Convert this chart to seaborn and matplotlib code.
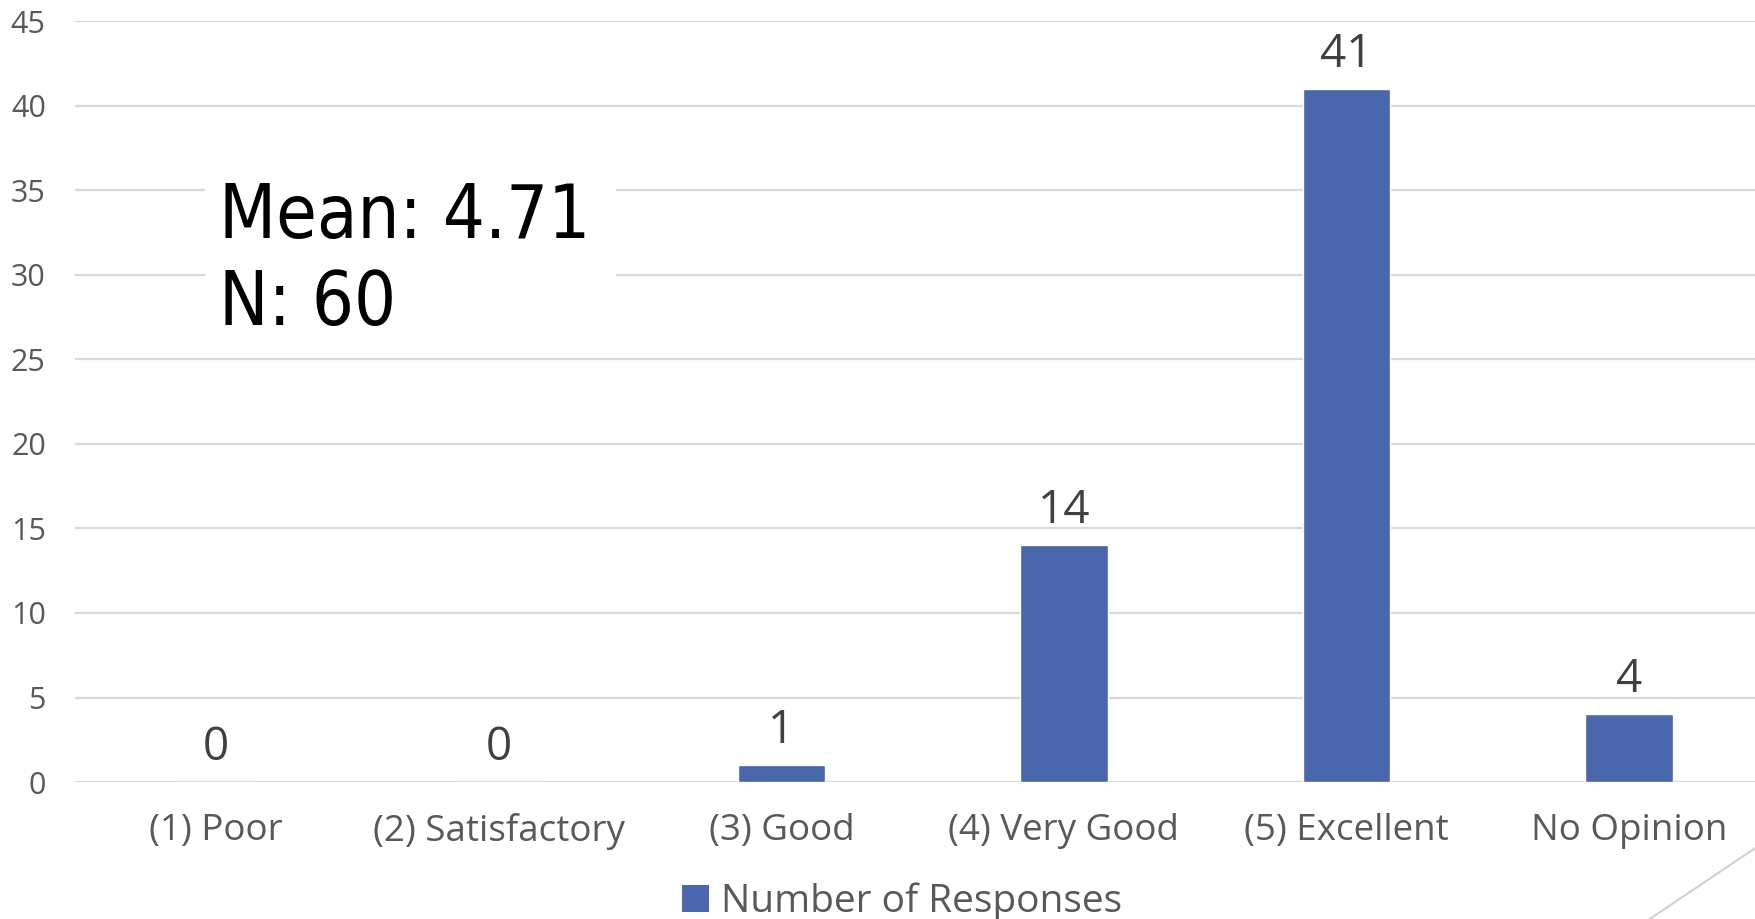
import matplotlib
matplotlib.use("Agg")
import matplotlib.pyplot as plt
from matplotlib.lines import Line2D
from matplotlib.patches import Patch, Rectangle
import seaborn as sns
import pandas as pd

# Survey results
categories = ["(1) Poor", "(2) Satisfactory", "(3) Good", "(4) Very Good", "(5) Excellent", "No Opinion"]
responses = [0, 0, 1, 14, 41, 4]
series_name = "Number of Responses"
mean_score = 4.71
n_total = 60
y_ticks = [0, 5, 10, 15, 20, 25, 30, 35, 40, 45]

BAR_COLOR = "#4A66AC"
TICK_COLOR = "#595959"
LABEL_COLOR = "#404040"
GRID_COLOR = "#D9D9D9"

sns.set_theme(style="white")
plt.rcParams["font.family"] = ["Open Sans", "DejaVu Sans"]

df = pd.DataFrame({"category": categories, "count": responses})

fig = plt.figure(figsize=(17.55, 9.19), dpi=100)
ax = fig.add_axes([0.0427, 0.149, 0.966, 0.828])

sns.barplot(data=df, x="category", y="count", color=BAR_COLOR, width=0.31,
            saturation=1, ax=ax, zorder=3)

ax.set_xlim(-0.5, len(categories) - 0.5)
ax.set_ylim(0, 45)
ax.set_yticks(y_ticks)
ax.set_xlabel("")
ax.set_ylabel("")
ax.yaxis.grid(True, color=GRID_COLOR, linewidth=1.6, zorder=0)
ax.set_axisbelow(True)
for side in ax.spines.values():
    side.set_visible(False)
ax.tick_params(axis="y", length=0, pad=21, labelsize=22, labelcolor=TICK_COLOR)
ax.tick_params(axis="x", length=0, pad=22, labelsize=26.5, labelcolor=TICK_COLOR)

# value labels above each bar
for cont in ax.containers:
    ax.bar_label(cont, labels=[str(v) for v in responses], padding=8,
                 fontsize=33, color=LABEL_COLOR)

# summary statistics on a white panel that hides the grid behind it
ax.add_patch(Rectangle((-0.04, 25.9), 1.455, 12.6, facecolor="white",
                       edgecolor="none", zorder=4))
stat_kw = dict(fontsize=53, color="black", ha="left", va="baseline",
               family=["DejaVu Sans"], fontstretch="condensed", zorder=5)
ax.text(0.01, 32.2, f"Mean: {mean_score}", **stat_kw)
ax.text(0.01, 27.05, f"N: {n_total}", **stat_kw)

# legend below the axis
handle = Patch(facecolor=BAR_COLOR, edgecolor="none")
fig.legend([handle], [series_name], loc="center", bbox_to_anchor=(0.514, 0.019),
           frameon=False, fontsize=28, labelcolor=TICK_COLOR,
           handlelength=0.7, handleheight=0.7, handletextpad=0.3)

# decorative corner stroke
fig.add_artist(Line2D([0.940, 1.0], [0.0, 0.077], transform=fig.transFigure,
                      color="#D0D0D0", linewidth=1.5))

fig.savefig("out.png", dpi=100)
